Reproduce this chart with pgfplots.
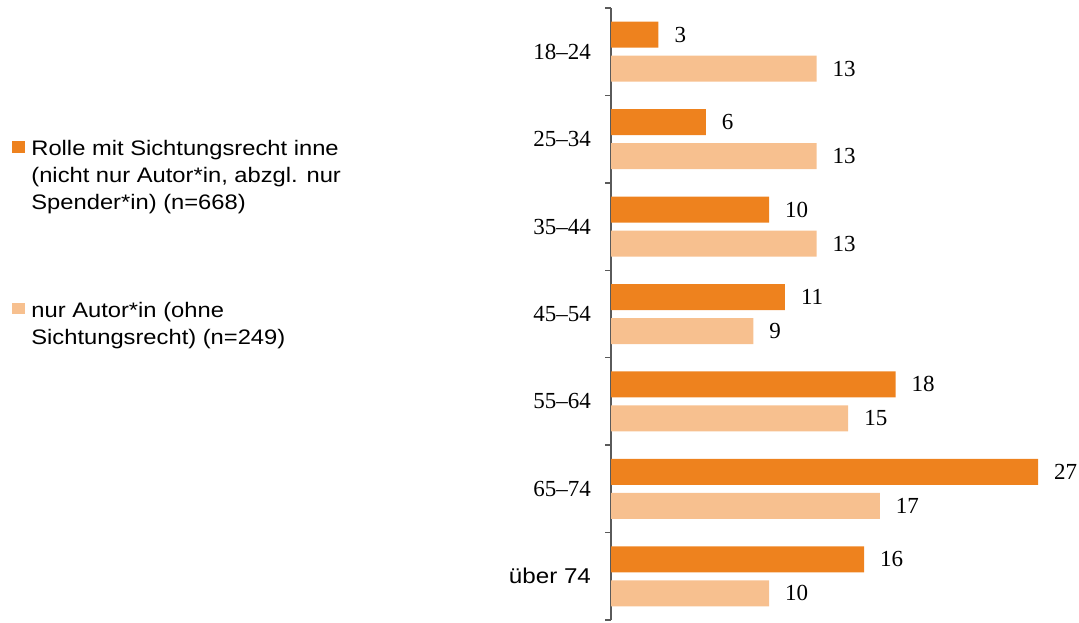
\documentclass[border=0pt]{standalone}
\usepackage{fontspec}
\setmainfont{Liberation Serif}
\newfontfamily\arial[FakeStretch=1.13]{Liberation Sans}
\usepackage{pgfplots}
\pgfplotsset{compat=1.18}
\definecolor{darkor}{RGB}{238,130,30}
\definecolor{lightor}{RGB}{247,192,143}
\definecolor{axgray}{RGB}{90,90,90}
\begin{document}
\begin{tikzpicture}
\path[use as bounding box] (0,0) rectangle (539.5pt,311pt);
\begin{axis}[
  at={(305.5pt,1pt)}, anchor=south west,
  scale only axis, width=213.5pt, height=306pt,
  xbar, bar width=13pt,
  xmin=0, xmax=27,
  ymin=-0.5, ymax=6.5, y dir=reverse,
  axis x line=none, axis y line*=left,
  axis line style={axgray, line width=0.75pt, -},
  ytick={0,1,2,3,4,5,6},
  yticklabels={18–24,25–34,35–44,45–54,55–64,65–74,{\arial\fontsize{10.7}{12}\selectfont über 74}},
  major tick length=0pt,
  minor ytick={-0.5,0.5,1.5,2.5,3.5,4.5,5.5,6.5},
  minor tick length=3pt, tick align=outside,
  minor tick style={axgray, line width=0.75pt},
  yticklabel style={font=\fontsize{11.5}{13}\selectfont, xshift=-6.5pt},
  /pgf/number format/assume math mode=true,
  nodes near coords,
  nodes near coords style={font=\fontsize{11.5}{13}\selectfont, anchor=west, xshift=4.5pt, text=black},
  point meta=x,
  clip=false,
  legend style={at={(axis description cs:-1.4028,0.7977)}, anchor=north west, draw=none, fill=none,
    inner sep=0pt, row sep=66pt, column sep=1pt,
    font=\arial\fontsize{10.5}{13.5}\selectfont,
    cells={anchor=base west}},
  legend image code/.code={\fill[#1,draw=none] (0pt,1.3pt) rectangle (6.5pt,7pt);},
]
\addplot[fill=darkor, draw=none, bar shift=8.5pt] coordinates {(3,0) (6,1) (10,2) (11,3) (18,4) (27,5) (16,6)};
\addlegendentry{\begin{tabular}[t]{@{}l@{}}Rolle mit Sichtungsrecht inne\\(nicht nur Autor*in, abzgl. nur\\Spender*in) (n=668)\end{tabular}}
\addplot[fill=lightor, draw=none, bar shift=-8.5pt] coordinates {(13,0) (13,1) (13,2) (9,3) (15,4) (17,5) (10,6)};
\addlegendentry{\begin{tabular}[t]{@{}l@{}}nur Autor*in (ohne\\Sichtungsrecht) (n=249)\end{tabular}}
\end{axis}
\end{tikzpicture}
\end{document}
